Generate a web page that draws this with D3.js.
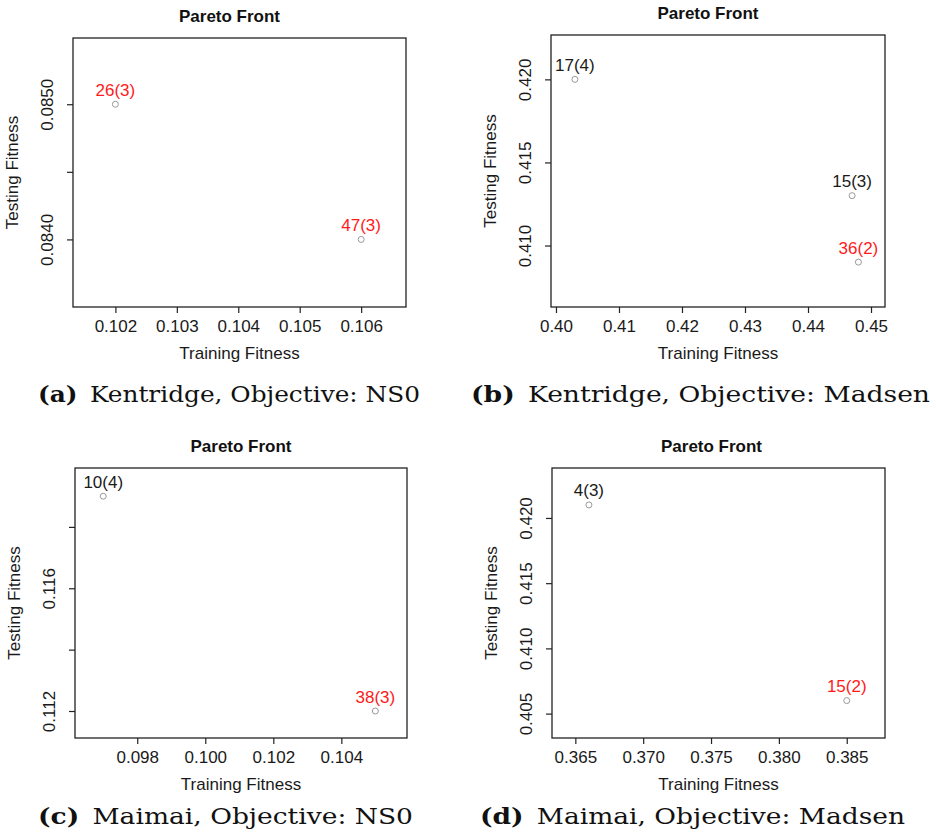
<!DOCTYPE html>
<html>
<head>
	<title>Pareto Front</title>
	<script type="text/javascript" src="https://d3js.org/d3.v7.min.js"></script>
	<style type="text/css">
		body { margin: 0; background: white; }
		.axis text { font-family: "Liberation Sans", Arial, sans-serif; font-size: 17px; fill: #1a1a1a; }
		.title { font-family: "Liberation Sans", Arial, sans-serif; font-size: 17px; font-weight: bold; fill: #111; }
		.caption { font-family: "DejaVu Serif", serif; font-size: 22px; fill: #111; }
	</style>
</head>
<body>
	<script type="text/javascript">
		// data, one set of arrays per panel
		var captionTags = ["(a)", "(b)", "(c)", "(d)"];
		var captionTexts = ["Kentridge, Objective: NS0", "Kentridge, Objective: Madsen",
		                    "Maimai, Objective: NS0", "Maimai, Objective: Madsen"];

		var trainA = [0.102, 0.106];
		var testA = [0.0850, 0.0840];
		var labelA = ["26(3)", "47(3)"];
		var redA = [true, true];
		var xLimA = [0.10131, 0.10673];
		var yLimA = [0.08350, 0.08549];
		var xTicksA = [0.102, 0.103, 0.104, 0.105, 0.106];
		var yTicksA = [0.0840, 0.0845, 0.0850];
		var yTickTextA = ["0.0840", "", "0.0850"];

		var trainB = [0.403, 0.447, 0.448];
		var testB = [0.420, 0.413, 0.409];
		var labelB = ["17(4)", "15(3)", "36(2)"];
		var redB = [false, false, true];
		var xLimB = [0.39921, 0.45222];
		var yLimB = [0.40630, 0.42267];
		var xTicksB = [0.40, 0.41, 0.42, 0.43, 0.44, 0.45];
		var yTicksB = [0.410, 0.415, 0.420];
		var yTickTextB = ["0.410", "0.415", "0.420"];

		var trainC = [0.097, 0.105];
		var testC = [0.119, 0.112];
		var labelC = ["10(4)", "38(3)"];
		var redC = [false, true];
		var xLimC = [0.09617, 0.10593];
		var yLimC = [0.11112, 0.11992];
		var xTicksC = [0.098, 0.100, 0.102, 0.104];
		var yTicksC = [0.112, 0.114, 0.116, 0.118];
		var yTickTextC = ["0.112", "", "0.116", ""];

		var trainD = [0.366, 0.385];
		var testD = [0.421, 0.406];
		var labelD = ["4(3)", "15(2)"];
		var redD = [false, true];
		var xLimD = [0.36328, 0.38782];
		var yLimD = [0.40313, 0.42383];
		var xTicksD = [0.365, 0.370, 0.375, 0.380, 0.385];
		var yTicksD = [0.405, 0.410, 0.415, 0.420];
		var yTickTextD = ["0.405", "0.410", "0.415", "0.420"];

		var width = 936, height = 833;

		var svg = d3.select("body")
					.append("svg")
					.attr("width", width)
					.attr("height", height);

		function drawPanel(box, titleShift, train, test, labels, reds, xLim, yLim, xTicks, yTicks, yTickText, xFmt)
		{
			var xScale = d3.scaleLinear().domain(xLim).range([box.left, box.right]);
			var yScale = d3.scaleLinear().domain(yLim).range([box.bottom, box.top]);

			var xaxis = d3.axisBottom(xScale)
							.tickValues(xTicks)
							.tickSize(6)
							.tickPadding(3)
							.tickFormat(d3.format(xFmt));

			var yaxis = d3.axisLeft(yScale)
							.tickValues(yTicks)
							.tickSize(6)
							.tickFormat(function(d, i){ return yTickText[i]; });

			var gx = svg.append("g")
				.attr("class", "axis")
				.attr("transform", "translate(0, " + box.bottom + ")")
				.call(xaxis);
			gx.select(".domain").remove();
			gx.selectAll("line").attr("stroke", "#222").attr("stroke-width", 1.2);
			gx.selectAll("text").attr("dy", null).attr("y", 25);

			var gy = svg.append("g")
				.attr("class", "axis")
				.attr("transform", "translate(" + box.left + ", 0)")
				.call(yaxis);
			gy.select(".domain").remove();
			gy.selectAll("line").attr("stroke", "#222").attr("stroke-width", 1.2);
			gy.selectAll("text")
				.attr("x", null).attr("dy", null)
				.attr("text-anchor", "middle")
				.attr("transform", "translate(-20, 0) rotate(-90)");

			// box around the plot region
			svg.append("rect")
				.attr("x", box.left)
				.attr("y", box.top)
				.attr("width", box.right - box.left)
				.attr("height", box.bottom - box.top)
				.attr("fill", "none")
				.attr("stroke", "#222")
				.attr("stroke-width", 1.3);

			var cx = (box.left + box.right) / 2;
			var cy = (box.top + box.bottom) / 2;

			svg.append("text")
				.attr("class", "title")
				.attr("x", cx + titleShift)
				.attr("y", box.top - 16)
				.attr("text-anchor", "middle")
				.text("Pareto Front");

			svg.append("text")
				.attr("class", "axis")
				.attr("x", cx)
				.attr("y", box.bottom + 52)
				.attr("text-anchor", "middle")
				.style("font-family", "Liberation Sans, Arial, sans-serif")
				.style("font-size", "17px")
				.style("fill", "#1a1a1a")
				.text("Training Fitness");

			svg.append("text")
				.attr("transform", "translate(" + (box.left - 55) + ", " + cy + ") rotate(-90)")
				.attr("text-anchor", "middle")
				.style("font-family", "Liberation Sans, Arial, sans-serif")
				.style("font-size", "17px")
				.style("fill", "#1a1a1a")
				.text("Testing Fitness");

			var pts = train.map(function(d, i){ return {x: d, y: test[i], label: labels[i], red: reds[i]}; });

			svg.selectAll(null)
				.data(pts)
				.enter()
				.append("circle")
				.attr("cx", function(d){ return xScale(d.x); })
				.attr("cy", function(d){ return yScale(d.y); })
				.attr("r", 3)
				.attr("fill", "none")
				.attr("stroke", "#999")
				.attr("stroke-width", 1);

			svg.selectAll(null)
				.data(pts)
				.enter()
				.append("text")
				.attr("x", function(d){ return xScale(d.x); })
				.attr("y", function(d){ return yScale(d.y) - 8.5; })
				.attr("text-anchor", "middle")
				.style("font-family", "Liberation Sans, Arial, sans-serif")
				.style("font-size", "17px")
				.style("fill", function(d){ return d.red ? "#ff1a1a" : "#1a1a1a"; })
				.text(function(d){ return d.label; });
		}

		drawPanel({left: 73, top: 38, right: 406, bottom: 307}, -10,
			trainA, testA, labelA, redA, xLimA, yLimA, xTicksA, yTicksA, yTickTextA, ".3f");
		drawPanel({left: 551, top: 35, right: 885, bottom: 307}, -10,
			trainB, testB, labelB, redB, xLimB, yLimB, xTicksB, yTicksB, yTickTextB, ".2f");
		drawPanel({left: 75, top: 468, right: 407, bottom: 738}, 0,
			trainC, testC, labelC, redC, xLimC, yLimC, xTicksC, yTicksC, yTickTextC, ".3f");
		drawPanel({left: 552, top: 468, right: 885, bottom: 738}, -7,
			trainD, testD, labelD, redD, xLimD, yLimD, xTicksD, yTicksD, yTickTextD, ".3f");

		// sub-figure captions
		var capX = [38, 471, 38, 480];
		var capEnd = [420, 930, 413, 905];
		var capY = [402, 402, 824, 824];

		captionTags.forEach(function(tag, i){
			var t = svg.append("text")
				.attr("class", "caption")
				.attr("x", capX[i])
				.attr("y", capY[i]);
			t.append("tspan").style("font-weight", "bold").text(tag);
			t.append("tspan").text("\u2002" + captionTexts[i]);
			var len = t.node().getComputedTextLength();
			var target = capEnd[i] - capX[i];
			t.attr("textLength", target).attr("lengthAdjust", "spacingAndGlyphs");
		});
	</script>
</body>
</html>
